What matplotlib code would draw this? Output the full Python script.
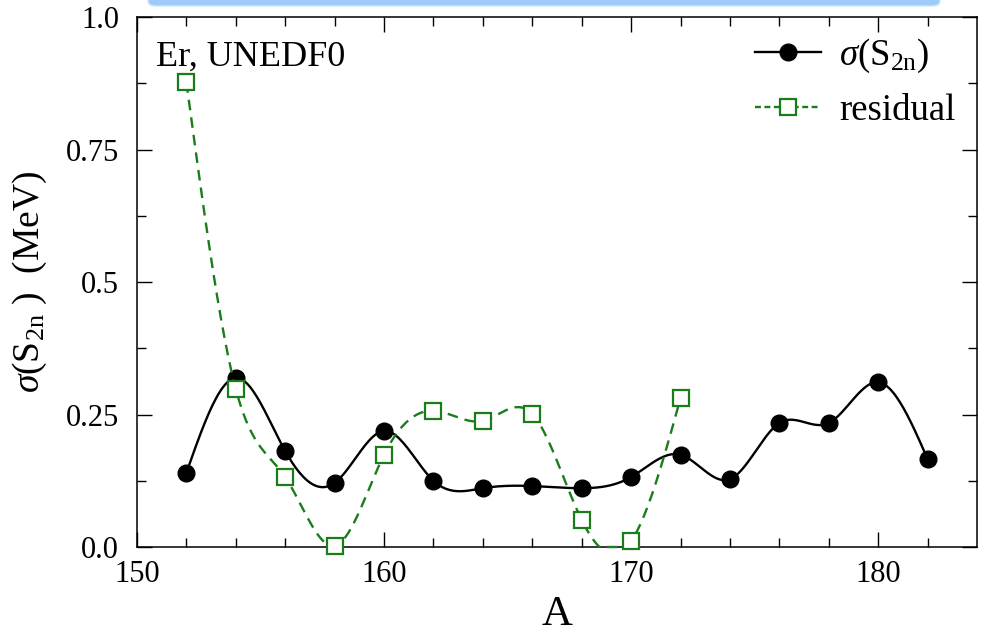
import matplotlib
matplotlib.use('Agg')
import matplotlib.pyplot as plt
from matplotlib.lines import Line2D
from matplotlib.patches import FancyBboxPatch
import numpy as np

plt.rcParams['font.family'] = ['Liberation Serif', 'DejaVu Serif']
plt.rcParams['mathtext.fontset'] = 'custom'
plt.rcParams['mathtext.rm'] = 'Liberation Serif'
plt.rcParams['mathtext.it'] = 'Liberation Serif:italic'

# data
a_sigma = [152, 154, 156, 158, 160, 162, 164, 166, 168, 170, 172, 174, 176, 178, 180, 182]
sigma_s2n = [0.140, 0.319, 0.181, 0.121, 0.219, 0.125, 0.111, 0.115, 0.111, 0.132,
             0.174, 0.128, 0.234, 0.234, 0.311, 0.166]
a_resid = [152, 154, 156, 158, 160, 162, 164, 166, 168, 170, 172]
residual = [0.877, 0.298, 0.132, 0.002, 0.174, 0.257, 0.238, 0.251, 0.051, 0.011, 0.281]

y_ticks = [0.0, 0.25, 0.5, 0.75, 1.0]
y_ticklabels = ['0.0', '0.25', '0.5', '0.75', '1.0']
x_ticks = [150, 160, 170, 180]


def natural_spline(x, y, n=400):
    # plain natural cubic spline, like the smoothing of the original plot
    x = np.asarray(x, float)
    y = np.asarray(y, float)
    k = len(x)
    h = np.diff(x)
    A = np.zeros((k, k))
    r = np.zeros(k)
    A[0, 0] = A[-1, -1] = 1
    for i in range(1, k - 1):
        A[i, i - 1] = h[i - 1]
        A[i, i] = 2 * (h[i - 1] + h[i])
        A[i, i + 1] = h[i]
        r[i] = 3 * ((y[i + 1] - y[i]) / h[i] - (y[i] - y[i - 1]) / h[i - 1])
    c = np.linalg.solve(A, r)
    b = (y[1:] - y[:-1]) / h - h * (2 * c[:-1] + c[1:]) / 3
    d = (c[1:] - c[:-1]) / (3 * h)
    xs = np.linspace(x[0], x[-1], n)
    idx = np.clip(np.searchsorted(x, xs) - 1, 0, k - 2)
    t = xs - x[idx]
    ys = y[idx] + b[idx] * t + c[idx] * t ** 2 + d[idx] * t ** 3
    return xs, ys


fig = plt.figure(figsize=(9.84, 6.4), dpi=100)
ax = fig.add_axes([0.1392, 0.1453, 0.8537, 0.8281])

green = '#1a7d1a'

xs, ys = natural_spline(a_sigma, sigma_s2n)
ax.plot(xs, ys, color='black', lw=1.7)
ax.plot(a_sigma, sigma_s2n, 'o', color='black', ms=12)

xs, ys = natural_spline(a_resid, residual)
# the original clips the curve onto the frame instead of hiding it
ys = np.maximum(ys, 0.0)
ax.plot(xs, ys, color=green, lw=1.7, ls=(0, (4.5, 3)), clip_on=False, zorder=3)
ax.plot(a_resid, residual, 's', mfc='white', mec=green, mew=1.6, ms=11,
        clip_on=False, zorder=3)

ax.set_xlim(150, 184)
ax.set_ylim(0, 1.0)
ax.set_xticks(x_ticks)
ax.set_xticks(np.arange(152, 184, 2), minor=True)
ax.set_yticks(y_ticks)
ax.set_yticklabels(y_ticklabels)
ax.set_yticks(np.arange(0.125, 1.0, 0.25), minor=True)
ax.tick_params(which='both', direction='in', top=True, right=True, width=1.0,
               labelsize=22)
ax.tick_params(axis='y', pad=13)
ax.tick_params(axis='x', pad=9)
ax.tick_params(which='major', length=10.5)
ax.tick_params(which='minor', length=6.5)
for s in ax.spines.values():
    s.set_linewidth(1.1)

ax.set_xlabel('A', fontsize=31, labelpad=5)
ax.set_ylabel(r'$\sigma$(S$_{\rm 2n}$ )  (MeV)', fontsize=27, labelpad=12)

ax.text(0.023, 0.955, 'Er, UNEDF0', transform=ax.transAxes, fontsize=26,
        ha='left', va='top')

handles = [Line2D([], [], color='black', lw=1.7, marker='o', ms=12),
           Line2D([], [], color=green, lw=1.7, ls=(0, (2.5, 1.5)), marker='s',
                  mfc='white', mec=green, mew=1.6, ms=11)]
ax.legend(handles, [r'$\sigma$(S$_{\rm 2n}$)', 'residual'], loc='upper right',
          bbox_to_anchor=(1.014, 1.025), frameon=False, fontsize=26.5,
          handlelength=1.8, handletextpad=0.5, labelspacing=0.5)

# light blue bar cut off at the top of the picture
bar = FancyBboxPatch((148 / 984, 634 / 640), (940 - 148) / 984, 20 / 640,
                     boxstyle='round,pad=0,rounding_size=0.008',
                     transform=fig.transFigure, facecolor='#9ecbf8',
                     edgecolor='#cfe6fc', lw=1.0, clip_on=False)
fig.patches.append(bar)

fig.savefig('out.png', dpi=100)
